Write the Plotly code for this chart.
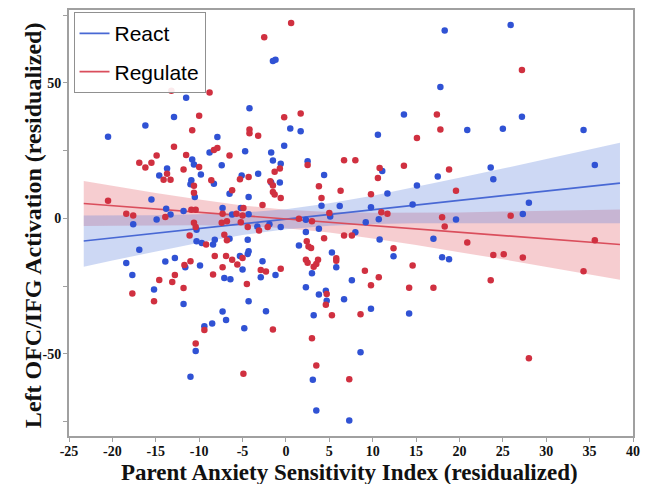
import plotly.graph_objects as go

# ---------------- data ----------------
react_x = [-1.5, -1.2, -11.5, -4.2, -12.9, -16.2, 0.5, 1.7, -20.5, -7.9, -8.8, -4.7, -0.2, -1.7, -10.8, -1.5,
           18.3, 25.9, 17.8, 13.6, 20.9, 25.0, 27.2, 34.3, 10.6,
           -10.6, -7.4, -0.6, 2.5, -13.7, -14.6, -9.8, -5.1, -3.2, 4.4, -8.3, -10.9, -11.0, -1.7, -0.7,
           -6.5, -10.5, -4.3, -15.5, 4.1, 6.2, -13.8, -11.8, -17.6, -14.9, -13.3, -10.3, -7.3, -6.2, -5.2,
           -4.3, -3.3, -1.9, -0.6, 5.1, 2.3, 3.8, 2.3,
           11.7, 9.8, 11.1, 17.5, 15.1, 14.6, 19.6, 10.7, 9.2, 8.0, 35.6, 23.6, 23.9, 27.3, 28.0,
           10.8, 17.0, 12.4, 18.0, 18.8, 7.6, 6.7, 9.8, 14.2, 8.6,
           -10.3, -9.7, -8.4, -8.2, -6.5, -4.4, -16.9, -18.4, -17.7, -15.2, -13.9, -12.8, -11.6, -9.9,
           -11.8, -5.3, -4.4, -4.3, -5.0, -7.1, -6.4, -4.3, -2.7, -2.9, -1.2, -7.3, -6.9, -8.5, -9.4,
           -2.3, -4.8, -10.4, -11.0, 1.5, 5.3, 5.8, 3.0, 2.3, 3.8, 4.6, 4.7, 3.2, 3.1, 3.5, 7.3]
react_y = [58.1, 58.5, 44.5, 40.6, 37.4, 34.3, 33.2, 32.2, 30.1, 30.0, 24.3, 24.8, 26.8, 24.3, 21.7, 21.4,
           69.3, 71.4, 48.5, 38.3, 32.6, 33.1, 37.5, 32.6, 30.9,
           19.9, 19.6, 20.2, 21.1, 18.4, 15.8, 16.2, 15.8, 16.5, 16.0, 12.8, 14.1, 12.6, 13.2, 13.2,
           9.1, 7.9, 7.9, 7.0, 4.7, 4.6, 3.6, 2.7, -2.2, -0.4, 1.4, -4.2, 3.8, 1.4, 3.8,
           1.5, -3.0, -2.2, -3.2, 0.7, -0.5, -3.8, -5.0,
           9.2, 4.1, 17.5, 15.5, 12.1, 5.1, -0.4, -0.3, -1.4, -5.1, 19.7, 18.8, 14.4, 1.6, 5.8,
           -7.8, -7.5, -14.0, -14.3, -15.1, -22.8, -29.8, -33.3, -35.1, -49.4,
           -8.4, -9.1, -9.6, -7.9, -7.5, -7.9, -11.6, -16.5, -20.9, -26.2, -15.9, -14.6, -18.0, -17.4,
           -31.6, -13.9, -13.1, -12.1, -18.9, -22.0, -22.5, -30.6, -15.8, -21.7, -20.9, -34.4, -37.5, -38.8, -39.8,
           -34.3, -40.5, -48.9, -58.4, -10.0, -12.6, -18.0, -20.2, -25.4, -28.1, -26.7, -30.4, -35.7, -59.5, -70.9, -74.6]

regulate_x = [0.6, -2.5, -13.2, -8.8, -10.0, -0.2, 1.7, -10.8, -4.2, -4.2, -3.2, -12.9, -7.9, -8.3, -14.9, -11.5, -6.5,
              27.2, 17.4, 17.8, 15.1, 6.7, 8.0,
              -16.9, -15.5, 2.5, -16.2, -10.0, -11.8, -0.7, -13.7, -14.1, -13.3, -5.3, -4.3, -1.3, -8.6, -10.6,
              -1.8, -1.5, -6.2, -10.6, -1.5, -1.3, -0.6, 3.8, 6.3, 4.1, -20.5, -2.7, -10.9, -10.4, -18.4, -17.6,
              -13.9, -10.6, -10.4, -7.3, -7.4, -6.8, -5.7, -4.9, -5.0, -5.2, -4.4, -3.1, -2.1, 5.0, 1.5, 3.0,
              -11.1, -7.1,
              9.8, 11.0, 11.7, 10.8, 10.6, 13.6, 18.8, 19.6, 18.0, 18.3, 6.7, 7.6, 25.9,
              35.6, 20.9, 12.4, 23.9, 25.1, 27.3, 34.3, 14.6, 9.1, 10.7, 9.8, 14.2, 17.0, 23.6, 8.6, 28.0, 7.3,
              -9.2, -6.8, -17.7, -15.2, -12.8, -13.1, -14.6, -11.7, -11.0, -11.8, -8.2, -6.9, -6.2, -5.6, -5.0,
              -7.3, -8.4, -4.5, -2.9, -2.3, -0.6, -9.4, -1.5, -10.4, -4.9,
              4.4, 2.4, 2.6, 2.9, 2.3, 2.5, 3.2, 3.7, 3.5, 5.8, 5.8, 4.7, 4.6, 5.3, 3.0, 3.5]
regulate_y = [72.1, 66.8, 47.1, 46.5, 37.9, 37.3, 38.7, 32.5, 32.8, 31.4, 30.5, 26.4, 26.0, 25.2, 23.2, 23.4, 23.2,
              54.8, 38.3, 32.8, 29.7, 21.5, 21.5,
              20.5, 20.5, 19.7, 18.8, 19.0, 18.0, 18.4, 16.5, 14.3, 14.3, 14.4, 15.3, 17.2, 14.1, 12.0,
              13.7, 12.1, 10.4, 9.5, 9.7, 8.8, 7.5, 11.9, 10.2, 7.5, 6.5, 4.9, 3.2, 3.2, 1.7, 1.1,
              0.5, -1.6, -3.2, 1.7, -1.6, -1.1, 1.7, 3.8, 1.1, -1.4, -3.2, -4.5, -3.2, 2.0, -0.1, -1.1,
              -6.3, -6.0,
              8.9, 2.3, 1.7, 18.6, 14.9, 19.4, 18.0, 10.2, 0.4, -3.0, -6.3, -6.3, 1.0,
              -8.1, -8.9, -11.0, -13.5, -13.2, -14.4, -19.5, -17.4, -19.3, -21.7, -24.7, -25.6, -25.6, -22.8, -35.4, -51.6, -59.4,
              -9.6, -8.1, -27.7, -30.6, -20.9, -23.5, -22.7, -17.2, -15.8, -25.7, -13.9, -13.9, -15.3, -17.0, -14.6,
              -18.0, -20.7, -24.2, -19.0, -19.6, -18.6, -41.2, -41.0, -46.2, -57.3,
              -7.3, -8.4, -10.4, -10.9, -15.3, -16.4, -17.8, -15.3, -16.8, -14.7, -15.6, -27.9, -31.9, -35.7, -44.2, -54.3]

# fitted lines and confidence bands
fit_x = [-23.3, 38.5]
react_fit = [-8.35, 13.03]
regulate_fit = [5.5, -9.64]

band_x = [-23.3, -20, -15, -10, -5, 0, 5, 10, 15, 20, 25, 30, 35, 38.5]
react_lo = [-17.8, -15.5, -12.2, -9.0, -6.1, -4.0, -2.7, -2.1, -1.8, -1.7, -1.7, -1.7, -1.8, -1.8]
react_hi = [1.1, 1.1, 1.2, 1.5, 2.1, 3.4, 5.6, 8.4, 11.6, 15.0, 18.4, 21.9, 25.4, 27.9]
regulate_lo = [-2.8, -2.7, -2.5, -2.5, -2.8, -3.6, -5.2, -7.4, -9.8, -12.5, -15.1, -17.9, -20.6, -22.6]
regulate_hi = [13.8, 12.0, 9.4, 7.0, 4.8, 3.2, 2.4, 2.1, 2.1, 2.2, 2.5, 2.8, 3.1, 3.3]

x_ticks = [-25, -20, -15, -10, -5, 0, 5, 10, 15, 20, 25, 30, 35, 40]
y_ticks = [-50, 0, 50]

x_title = "Parent Anxiety Sensitivity Index (residualized)"
y_title = "Left OFC/IFG Activation (residualized)"

# ---------------- styles ----------------
BLUE_PT = "rgb(48,82,212)"
RED_PT = "rgb(208,48,64)"
BLUE_LN = "rgb(72,104,212)"
RED_LN = "rgb(218,78,92)"
BLUE_BAND = "rgba(90,125,220,0.30)"
RED_BAND = "rgba(225,90,100,0.30)"
SERIF = "Liberation Serif, Times New Roman, serif"

fig = go.Figure()

# confidence bands
fig.add_trace(go.Scatter(x=band_x + band_x[::-1], y=regulate_hi + regulate_lo[::-1],
                         fill="toself", fillcolor=RED_BAND, line=dict(width=0),
                         mode="lines", hoverinfo="skip", showlegend=False))
fig.add_trace(go.Scatter(x=band_x + band_x[::-1], y=react_hi + react_lo[::-1],
                         fill="toself", fillcolor=BLUE_BAND, line=dict(width=0),
                         mode="lines", hoverinfo="skip", showlegend=False))

# fit lines (these carry the legend)
fig.add_trace(go.Scatter(x=fit_x, y=react_fit, mode="lines", name="React",
                         line=dict(color=BLUE_LN, width=1.7), legendgroup="a"))
fig.add_trace(go.Scatter(x=fit_x, y=regulate_fit, mode="lines", name="Regulate",
                         line=dict(color=RED_LN, width=1.7), legendgroup="b"))

# points
fig.add_trace(go.Scatter(x=react_x, y=react_y, mode="markers", showlegend=False,
                         marker=dict(color=BLUE_PT, size=6.5, line=dict(width=0))))
fig.add_trace(go.Scatter(x=regulate_x, y=regulate_y, mode="markers", showlegend=False,
                         marker=dict(color=RED_PT, size=6.5, line=dict(width=0))))

axis_common = dict(showline=True, linecolor="#a0a0a0", linewidth=2, mirror=True,
                   showgrid=False, zeroline=False, ticks="outside", ticklen=4,
                   tickcolor="#a0a0a0", tickwidth=1, automargin=False,
                   tickfont=dict(family=SERIF, size=14, color="#111"))

# the page adds an 8 px body margin, so the figure is drawn 8 px smaller
fig.update_layout(
    width=642, height=476,
    margin=dict(l=61, r=17, t=2, b=48),
    paper_bgcolor="white", plot_bgcolor="white",
    xaxis=dict(range=[-25, 40], tickvals=x_ticks, ticktext=[f"<b>{v}</b>" for v in x_ticks],
               ticklabelstandoff=-3, **axis_common),
    yaxis=dict(range=[-80.3, 76.9], tickvals=y_ticks, ticktext=[f"<b>{v}</b>" for v in y_ticks],
               minor=dict(dtick=25, tick0=0, ticks="outside", ticklen=4, tickcolor="#a0a0a0"),
               ticklabelstandoff=-1, **axis_common),
    legend=dict(x=0.008, y=0.995, xanchor="left", yanchor="top",
                bgcolor="rgba(255,255,255,0.9)", bordercolor="#909090", borderwidth=1,
                font=dict(family="Liberation Sans, Arial, sans-serif", size=21, color="#000"),
                itemwidth=30, tracegroupgap=8, traceorder="grouped"),
    showlegend=True,
    annotations=[
        dict(text=f"<b>{x_title}</b>", xref="paper", yref="paper", x=0.498, y=0,
             xanchor="center", yanchor="middle", yshift=-36, showarrow=False,
             font=dict(family=SERIF, size=23, color="#111")),
        dict(text=f"<b>{y_title}</b>", xref="paper", yref="paper", x=0, y=0.495,
             xanchor="center", yanchor="middle", xshift=-36, textangle=-90, showarrow=False,
             font=dict(family=SERIF, size=24, color="#111")),
    ],
)

fig.write_html("out.html")
